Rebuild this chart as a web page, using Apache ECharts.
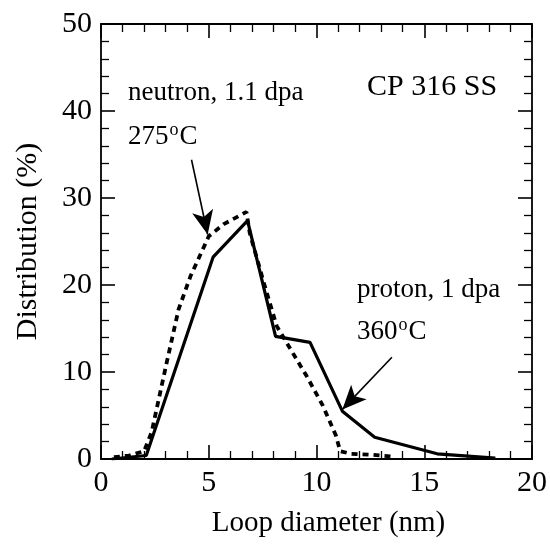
<!DOCTYPE html>
<html>
<head>
<meta charset="utf-8">
<script src="https://cdn.jsdelivr.net/npm/echarts@6/dist/echarts.min.js"></script>
<style>
  html, body { margin: 0; background: #fff; }
  #chart { width: 550px; height: 546px; }
</style>
</head>
<body>
<div id="chart"></div>
<script>
// loop size distributions
const protonX = [0.5, 2.1, 5.2, 6.8, 8.1, 9.7, 11.2, 12.7, 15.6, 18.3];
const protonY = [0, 0.4, 23.2, 27.4, 14.1, 13.4, 5.5, 2.5, 0.6, 0.1];

const neutronX = [0.6, 1.3, 2.0, 2.35, 3.05, 3.6, 4.15, 5.0, 5.7, 6.75, 6.9, 7.55, 8.15, 8.8, 9.55, 10.3, 10.9, 11.1, 11.6, 12.5, 13.5];
const neutronY = [0.2, 0.4, 0.9, 3.1, 11.1, 17.2, 21.0, 25.6, 27.0, 28.4, 26.0, 20.3, 15.3, 12.6, 9.5, 6.1, 2.7, 0.9, 0.6, 0.5, 0.3];

// arrows (tail, head) in data units
const neutronArrow = [[4.2, 34.4], [4.95, 25.8]];
const protonArrow = [[13.5, 11.7], [11.2, 5.7]];

const font = "'Liberation Serif', 'DejaVu Serif', serif";

function pairs(xs, ys) {
  return xs.map((x, i) => [x, ys[i]]);
}

function arrowLine(a) {
  return {
    silent: true,
    symbol: ["none", "arrow"],
    symbolSize: [16, 24],
    lineStyle: { color: "#000", width: 1.6, type: "solid" },
    label: { show: false },
    animation: false,
    data: [[{ coord: a[0] }, { coord: a[1] }]],
  };
}

function axisCommon(showLabel) {
  return {
    type: "value",
    axisLine: { show: true, onZero: false, lineStyle: { color: "#000", width: 1.8 } },
    axisTick: { show: true, inside: true, length: 14, lineStyle: { color: "#000", width: 1.6 } },
    minorTick: { show: true, splitNumber: 5, length: 8, lineStyle: { color: "#000", width: 1.3 } },
    splitLine: { show: false },
    minorSplitLine: { show: false },
    axisLabel: { show: showLabel, color: "#000", fontSize: 30, fontFamily: font, margin: 9 },
  };
}

let myChart = echarts.init(document.getElementById("chart"));
let option = {
  animation: false,
  grid: { left: 101, right: 17, top: 24, bottom: 87 },
  xAxis: [
    Object.assign(axisCommon(true), {
      position: "bottom", min: 0, max: 20, interval: 5,
      name: "Loop diameter (nm)", nameLocation: "middle", nameGap: 50,
      nameTextStyle: { color: "#000", fontSize: 29, fontFamily: font, padding: [0, 0, 0, 24] },
    }),
    Object.assign(axisCommon(false), { position: "top", min: 0, max: 20, interval: 5 }),
  ],
  yAxis: [
    Object.assign(axisCommon(true), {
      position: "left", min: 0, max: 50, interval: 10,
      name: "Distribution (%)", nameLocation: "middle", nameGap: 58,
      nameTextStyle: { color: "#000", fontSize: 30, fontFamily: font },
    }),
    Object.assign(axisCommon(false), { position: "right", min: 0, max: 50, interval: 10 }),
  ],
  series: [
    {
      name: "proton",
      type: "line",
      data: pairs(protonX, protonY),
      showSymbol: false,
      lineStyle: { color: "#000", width: 3.2 },
      markLine: arrowLine(protonArrow),
    },
    {
      name: "neutron",
      type: "line",
      data: pairs(neutronX, neutronY),
      showSymbol: false,
      lineStyle: { color: "#000", width: 3.8, type: [6, 5] },
      markLine: arrowLine(neutronArrow),
    },
  ],
  graphic: [
    { type: "text", x: 367, y: 87, style: { text: "CP 316 SS", fontSize: 30, fontFamily: font, fill: "#000", verticalAlign: "middle" } },
    { type: "text", x: 128, y: 93, style: { text: "neutron, 1.1 dpa", fontSize: 27, fontFamily: font, fill: "#000", verticalAlign: "middle" } },
    { type: "text", x: 128, y: 137, style: {
        text: "275{sup|o}C", fontSize: 27, fontFamily: font, fill: "#000", verticalAlign: "middle",
        rich: { sup: { fontSize: 18, fontFamily: font, fill: "#000", padding: [0, 1, 14, 1] } } } },
    { type: "text", x: 357, y: 290, style: { text: "proton, 1 dpa", fontSize: 27, fontFamily: font, fill: "#000", verticalAlign: "middle" } },
    { type: "text", x: 357, y: 332, style: {
        text: "360{sup|o}C", fontSize: 27, fontFamily: font, fill: "#000", verticalAlign: "middle",
        rich: { sup: { fontSize: 18, fontFamily: font, fill: "#000", padding: [0, 1, 14, 1] } } } },
  ],
};
myChart.setOption(option);
</script>
</body>
</html>
